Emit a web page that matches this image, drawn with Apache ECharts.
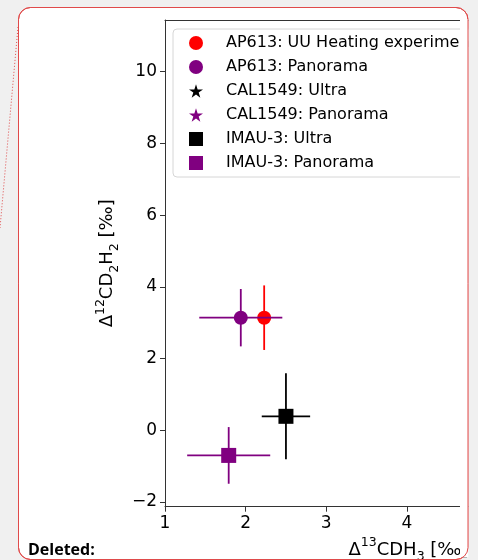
<!DOCTYPE html>
<html>
<head>
<meta charset="utf-8">
<script src="https://cdn.jsdelivr.net/npm/echarts@6/dist/echarts.min.js"></script>
<style>
html,body{margin:0;padding:0;background:#f0f0f0;overflow:hidden;width:478px;height:560px;}
#chart{width:720px;height:560px;}
</style>
</head>
<body>
<div id="chart"></div>
<script>
// ---- data ----
const seriesNames = ['AP613: UU Heating experiment', 'AP613: Panorama', 'CAL1549: Ultra', 'CAL1549: Panorama', 'IMAU-3: Ultra', 'IMAU-3: Panorama'];
const seriesColors = ['#ff0000', '#800080', '#000000', '#800080', '#000000', '#800080'];
// each point: [x, y, xErr, yErr]
const ap613Heating = [[2.23, 3.14, 0, 0.9]];
const ap613Panorama = [[1.94, 3.14, 0.515, 0.8]];
const cal1549Ultra = [];
const cal1549Panorama = [];
const imau3Ultra = [[2.50, 0.39, 0.30, 1.2]];
const imau3Panorama = [[1.79, -0.70, 0.515, 0.79]];
const xTicks = [1, 2, 3, 4, 5, 6, 7];
const yTicks = [-2, 0, 2, 4, 6, 8, 10];
// axis titles (Δ¹³CDH₃ [‰] and Δ¹²CD₂H₂ [‰]) as rich-text pieces
const xName = '{n|Δ}{sup|13}{n|CDH}{sub|3}{n| [‰]}';
const yName = '{n|Δ}{sup|12}{n|CD}{sub|2}{n|H}{sub|2}{n| [‰]}';
const noteText = 'Deleted:';

const starPath = 'path://M50,0 L61.2,34.5 L97.6,34.5 L68.2,55.9 L79.4,90.5 L50,69.1 L20.6,90.5 L31.8,55.9 L2.4,34.5 L38.8,34.5 Z';
const symbols = ['circle', 'circle', starPath, starPath, 'rect', 'rect'];
const symbolSizes = [14, 14, 15, 15, 15, 15];
const allData = [ap613Heating, ap613Panorama, cal1549Ultra, cal1549Panorama, imau3Ultra, imau3Panorama];

const FONT = 'DejaVu Sans';

function makeErr(color) {
  return function (params, api) {
    const x = api.value(0), y = api.value(1), ex = api.value(2), ey = api.value(3);
    const children = [];
    if (ex > 0) {
      const a = api.coord([x - ex, y]), b = api.coord([x + ex, y]);
      children.push({type: 'line', shape: {x1: a[0], y1: a[1], x2: b[0], y2: b[1]}, style: {stroke: color, lineWidth: 1.8}});
    }
    if (ey > 0) {
      const a = api.coord([x, y - ey]), b = api.coord([x, y + ey]);
      children.push({type: 'line', shape: {x1: a[0], y1: a[1], x2: b[0], y2: b[1]}, style: {stroke: color, lineWidth: 1.8}});
    }
    return {type: 'group', children: children};
  };
}

const series = [];
allData.forEach(function (d, i) {
  series.push({
    type: 'custom',
    name: 'err' + i,
    renderItem: makeErr(seriesColors[i]),
    data: d,
    z: 2 + i * 2,
    silent: true
  });
  series.push({
    type: 'scatter',
    name: seriesNames[i],
    data: d.map(function (p) { return [p[0], p[1]]; }),
    symbol: symbols[i],
    symbolSize: symbolSizes[i],
    itemStyle: {color: seriesColors[i], opacity: 1},
    z: 3 + i * 2
  });
});

const axisLineStyle = {color: '#333', width: 1};
const nameRich = {
  n: {fontFamily: FONT, fontSize: 18, color: '#000', lineHeight: 27, verticalAlign: 'middle'},
  sup: {fontFamily: FONT, fontSize: 12.5, color: '#000', lineHeight: 27, verticalAlign: 'top'},
  sub: {fontFamily: FONT, fontSize: 12.5, color: '#000', lineHeight: 27, verticalAlign: 'bottom'}
};

const option = {
  backgroundColor: '#f0f0f0',
  animation: false,
  grid: {left: 165, top: 20, width: 487, bottom: 53.3, containLabel: false, outerBoundsMode: 'none'},
  xAxis: [{
    type: 'value', min: 1, max: 7.04,
    splitLine: {show: false},
    axisLine: {show: true, onZero: false, lineStyle: axisLineStyle},
    axisTick: {show: true, length: 5, inside: false, lineStyle: axisLineStyle, customValues: xTicks},
    axisLabel: {color: '#000', fontFamily: FONT, fontSize: 17, margin: 8, customValues: xTicks},
    name: xName, nameLocation: 'middle', nameGap: 27,
    nameTextStyle: {color: '#000', fontFamily: FONT, fontSize: 18, rich: nameRich}
  }, {
    type: 'value', min: 1, max: 7.04, position: 'top',
    splitLine: {show: false},
    axisLine: {show: true, onZero: false, lineStyle: axisLineStyle},
    axisTick: {show: false}, axisLabel: {show: false}
  }],
  yAxis: {
    type: 'value', min: -2.13, max: 11.44,
    splitLine: {show: false},
    axisLine: {show: true, onZero: false, lineStyle: axisLineStyle},
    axisTick: {show: true, length: 5, inside: false, lineStyle: axisLineStyle, customValues: yTicks},
    axisLabel: {color: '#000', fontFamily: FONT, fontSize: 17, margin: 8, customValues: yTicks,
      formatter: function (v) { return v < 0 ? '\u2212' + Math.abs(v) : String(v); }},
    name: yName, nameLocation: 'middle', nameGap: 35.5,
    nameTextStyle: {color: '#000', fontFamily: FONT, fontSize: 18, rich: nameRich}
  },
  legend: {
    orient: 'vertical', left: 173, top: 29,
    padding: [4, 40, 4, 16],
    itemGap: 4, itemWidth: 14, itemHeight: 14,
    backgroundColor: '#ffffff', borderColor: '#d6d6d6', borderWidth: 1, borderRadius: 4,
    data: seriesNames.map(function (n, i) { return {name: n, icon: symbols[i]}; }),
    textStyle: {color: '#000', fontFamily: FONT, fontSize: 16, lineHeight: 20, padding: [0, 0, 0, 18]},
    selectedMode: false
  },
  graphic: [
    {type: 'rect', z: -10, shape: {x: 18.5, y: 7.5, width: 449.5, height: 552, r: 12},
      style: {fill: '#ffffff', stroke: '#e04a4a', lineWidth: 1}},
    {type: 'line', z: -9, shape: {x1: 18, y1: 27, x2: 0, y2: 228},
      style: {stroke: '#e04a4a', lineWidth: 1, lineDash: [1, 2]}},
    {type: 'rect', z: 100, shape: {x: 460, y: 19, width: 8.5, height: 538}, style: {fill: '#ffffff'}},
    {type: 'rect', z: 100, shape: {x: 468.5, y: 0, width: 260, height: 560}, style: {fill: '#f0f0f0'}},
    {type: 'rect', z: 101, shape: {x: 18.5, y: 7.5, width: 449.5, height: 552, r: 12},
      style: {fill: null, stroke: '#e04a4a', lineWidth: 1}},
    {type: 'text', z: 101, left: 28, top: 542,
      style: {text: noteText, fill: '#000', font: 'bold 16px "Open Sans", "DejaVu Sans", sans-serif'}}
  ],
  series: series
};

const chart = echarts.init(document.getElementById('chart'), null, {renderer: 'canvas'});
chart.setOption(option);
</script>
</body>
</html>
